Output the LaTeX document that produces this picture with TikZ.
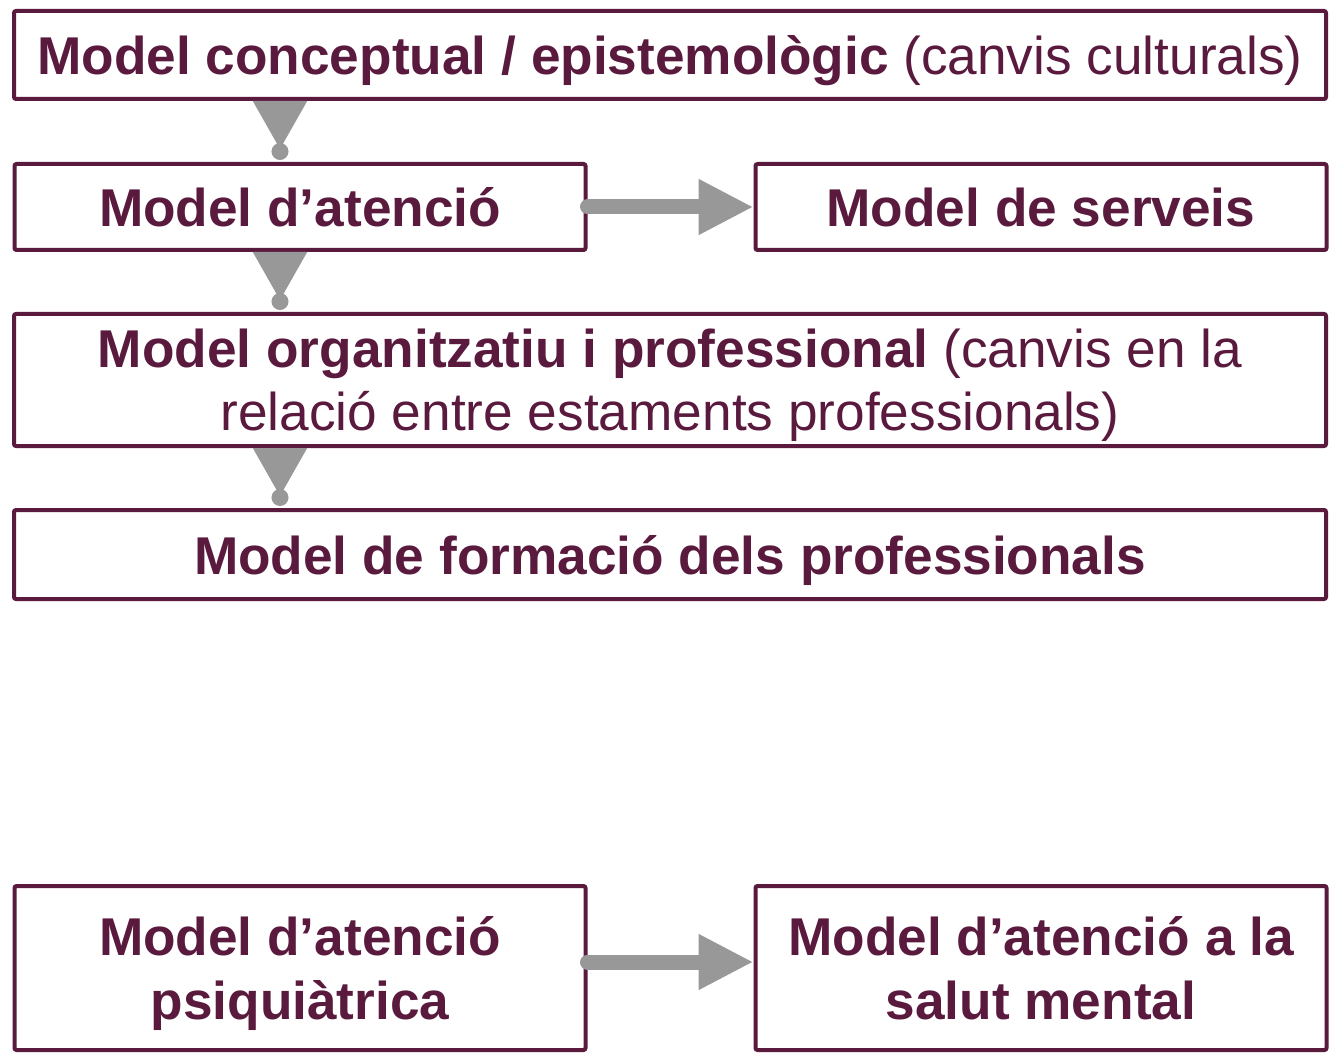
\documentclass[tikz,border=0pt]{standalone}
\usepackage{fontspec}
\setmainfont{Liberation Sans}
\usetikzlibrary{arrows.meta,positioning}
\definecolor{plum}{HTML}{5A1A3E}
\definecolor{flowgray}{HTML}{989898}

\begin{document}
\begin{tikzpicture}[x=0.5pt, y=-0.5pt,
    box/.style = {draw=plum, line width=2pt, text=plum, inner sep=0pt, align=center,
                  font=\fontsize{26.6}{31.5}\selectfont, rounded corners=1pt, text depth=0pt},
    oneline/.style = {text height=19.5pt},
    wide/.style = {box, minimum width=656pt},
    half/.style = {box, minimum width=285.5pt},
    hflow/.style = {draw=flowgray, line width=7.5pt, line cap=round,
                    -{Triangle[length=27.5pt, width=26pt]}},
    vflow/.style = {draw=flowgray, line width=1pt, shorten >=1pt,
                    {Triangle[reversed, length=24pt, width=27pt]}-{Circle[length=8.5pt]}}]
    \useasboundingbox (0,0) rectangle (1330,1054);

    % upper chain
    \node [wide, oneline, minimum height=44pt] (conceptual) at (670,55)
        {\textbf{Model conceptual / epistemològic} (canvis culturals)};
    \node [half, oneline, minimum height=43pt] (atencio) at (300,207) {\textbf{Model d’atenció}};
    \node [half, oneline, minimum height=43pt] (serveis) at (1041,207) {\textbf{Model de serveis}};
    \node [wide, minimum height=66pt] (organitzatiu) at (670,380)
        {\textbf{Model organitzatiu i professional} (canvis en la\\
         relació entre estaments professionals)};
    \node [wide, oneline, minimum height=44.5pt] (formacio) at (670,554.5)
        {\textbf{Model de formació dels professionals}};

    % lower pair
    \node [half, minimum height=82pt, font=\fontsize{26.6}{32}\selectfont\bfseries] (psiquiatrica) at (300,968)
        {Model d’atenció\\psiquiàtrica};
    \node [half, minimum height=82pt, font=\fontsize{26.6}{32}\selectfont\bfseries] (salut) at (1041,968)
        {Model d’atenció a la\\salut mental};

    \coordinate (ax) at (280,0);
    \draw [vflow] (ax |- conceptual.south) -- (ax |- atencio.north);
    \draw [vflow] (ax |- atencio.south) -- (ax |- organitzatiu.north);
    \draw [vflow] (ax |- organitzatiu.south) -- (ax |- formacio.north);
    \draw [hflow] (atencio) -- (serveis);
    \draw [hflow] (psiquiatrica.east |- 0,962) -- (salut.west |- 0,962);
\end{tikzpicture}
\end{document}
